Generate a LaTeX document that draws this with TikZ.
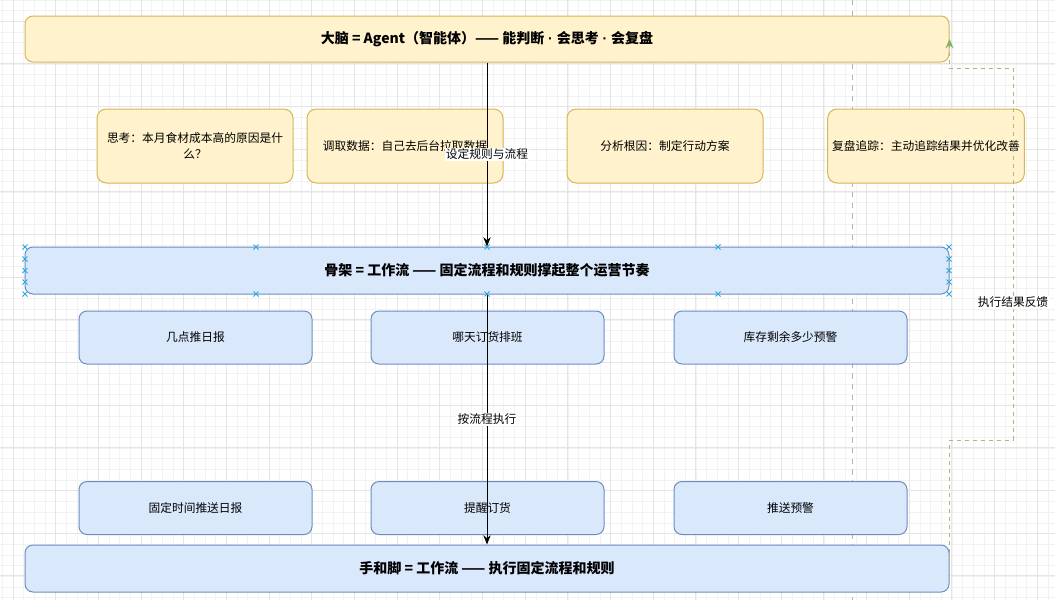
\documentclass[tikz,border=0pt]{standalone}
\usepackage{fontspec}
\setmainfont{Noto Sans CJK SC}
\newfontfamily\dotfont{Liberation Sans}
\usetikzlibrary{arrows.meta}

\definecolor{yfill}{HTML}{FFF2CC}
\definecolor{yline}{HTML}{D6B656}
\definecolor{bfill}{HTML}{DAE8FC}
\definecolor{bline}{HTML}{6C8EBF}
\definecolor{fbgreen}{HTML}{82B366}
\definecolor{fbline}{HTML}{B0B57C}
\definecolor{selblue}{HTML}{29A8E0}

\newcommand{\middot}{{\dotfont\ ·\ }}

\begin{document}
\begin{tikzpicture}[x=0.75pt, y=-0.75pt, line width=0.75pt,
        big_yellow_style/.style={draw=yline, fill=yfill, rounded corners=6pt, minimum width=693pt, minimum height=34.5pt, font=\bfseries\fontsize{10.5}{13}\selectfont},
        yellow_style/.style={draw=yline, fill=yfill, rounded corners=7pt, minimum width=147pt, minimum height=55.5pt, align=center, font=\fontsize{8.8}{12.5}\selectfont},
        big_blue_style/.style={draw=bline, fill=bfill, rounded corners=6pt, minimum width=693pt, minimum height=35.25pt, font=\bfseries\fontsize{10.5}{13}\selectfont},
        blue_style/.style={draw=bline, fill=bfill, rounded corners=6pt, minimum width=174.75pt, minimum height=39.75pt, font=\fontsize{8.8}{12}\selectfont},
        edge_style/.style={draw=black, line width=0.75pt, -{Stealth[length=7pt, width=5.5pt]}},
        edge_label/.style={fill=white, inner sep=1pt, font=\fontsize{8.8}{11}\selectfont},
        feedback_style/.style={draw=fbline, line width=0.75pt, dash pattern=on 3pt off 3pt, -{Stealth[length=7pt, width=6pt, color=fbgreen]}},
        grid_minor/.style={draw=black!5, line width=0.5pt},
        grid_major/.style={draw=black!10, line width=0.6pt},
        divider_style/.style={draw=black!30, line width=0.75pt, dash pattern=on 4pt off 4pt},
        sel_mark/.style={draw=selblue, line width=0.75pt}]

        % background and grid
        \useasboundingbox (0,0) rectangle (1055,600);
        \fill [white] (0,0) rectangle (1055,600);
        \foreach \gx in {2.33,13,...,1055} \draw [grid_minor] (\gx,0) -- (\gx,600);
        \foreach \gy in {0,10.67,...,600} \draw [grid_minor] (0,\gy) -- (1055,\gy);
        \foreach \gx in {13,55.67,...,1055} \draw [grid_major] (\gx,0) -- (\gx,600);
        \foreach \gy in {21,63.67,...,600} \draw [grid_major] (0,\gy) -- (1055,\gy);
        \draw [divider_style] (852,0) -- (852,600);

        % brain
        \node [big_yellow_style] (brain) at (487,39) {大脑 = Agent（智能体）—— 能判断\middot 会思考\middot 会复盘};
        \node [yellow_style] (think) at (195,146) {思考：本月食材成本高的原因是什\\么？};
        \node [yellow_style] (fetch) at (405,146) {调取数据：自己去后台拉取数据};
        \node [yellow_style] (analyse) at (665,146) {分析根因：制定行动方案};
        \node [yellow_style] (review) at (926,146) {复盘追踪：主动追踪结果并优化改善};

        % skeleton
        \node [big_blue_style] (skeleton) at (487,270.5) {骨架 = 工作流 —— 固定流程和规则撑起整个运营节奏};
        \node [blue_style] (daily) at (195.5,337.5) {几点推日报};
        \node [blue_style] (order) at (487.5,337.5) {哪天订货排班};
        \node [blue_style] (stock) at (790.5,337.5) {库存剩余多少预警};

        % hands
        \node [blue_style] (push_daily) at (195.5,508) {固定时间推送日报};
        \node [blue_style] (remind) at (487.5,508) {提醒订货};
        \node [blue_style] (alert) at (790.5,508) {推送预警};
        \node [big_blue_style] (hands) at (487,568.5) {手和脚 = 工作流 —— 执行固定流程和规则};

        \draw [edge_style] (brain) -- node [edge_label] {设定规则与流程} (skeleton);
        \draw [edge_style] (skeleton) -- node [edge_label] {按流程执行} (hands);

        \coordinate (fb_low) at (1013,440);
        \coordinate (fb_high) at (1013,68);
        \draw [feedback_style] (hands.east) -- (hands.east |- fb_low) -- (fb_low)
            -- node [edge_label, pos=0.37] {执行结果反馈} (fb_high) -- (brain.east |- fb_high) -- (brain.east);

        % selection marks on skeleton
        \foreach \mx in {25,256,487,718,949} {
            \foreach \my in {247,294} {
                \draw [sel_mark] (\mx-2.5,\my-2.5) -- (\mx+2.5,\my+2.5) (\mx-2.5,\my+2.5) -- (\mx+2.5,\my-2.5);
            }
        }
        \foreach \mx in {25,949} {
            \foreach \my in {259,270.5,282} {
                \draw [sel_mark] (\mx-2.5,\my-2.5) -- (\mx+2.5,\my+2.5) (\mx-2.5,\my+2.5) -- (\mx+2.5,\my-2.5);
            }
        }
\end{tikzpicture}
\end{document}
